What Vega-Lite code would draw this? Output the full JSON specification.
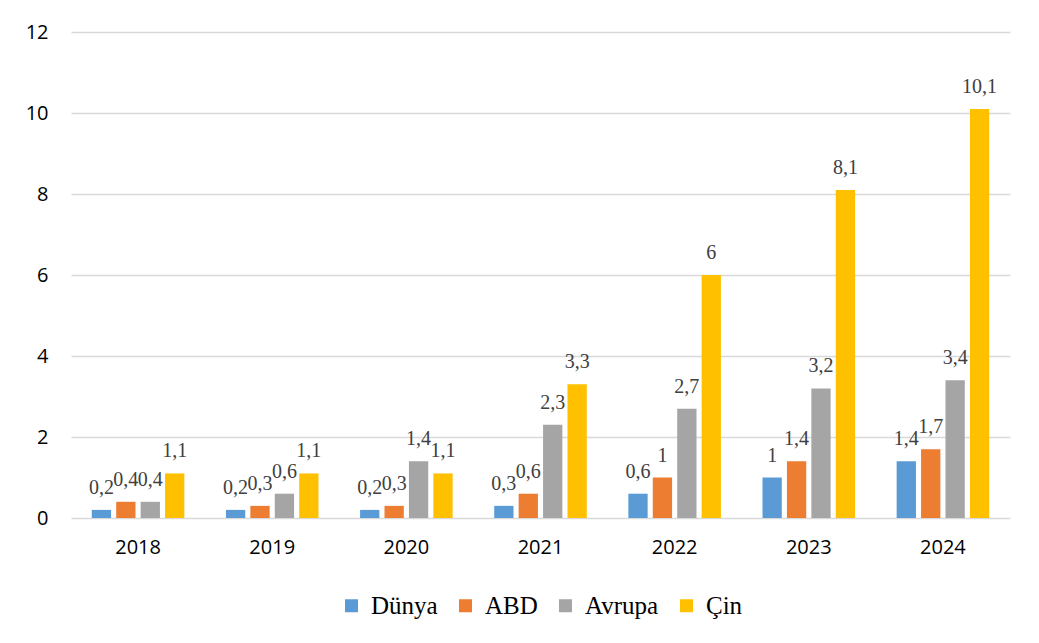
{
  "$schema": "https://vega.github.io/schema/vega-lite/v6.json",
  "width": 939,
  "height": 486,
  "autosize": {"type": "none"},
  "padding": {"left": 71, "top": 32, "right": 29, "bottom": 125},
  "background": "white",
  "data": {
    "values": [
      {"yil": "2018", "seri": "Dünya", "v": 0.2},
      {"yil": "2018", "seri": "ABD", "v": 0.4},
      {"yil": "2018", "seri": "Avrupa", "v": 0.4},
      {"yil": "2018", "seri": "Çin", "v": 1.1},
      {"yil": "2019", "seri": "Dünya", "v": 0.2},
      {"yil": "2019", "seri": "ABD", "v": 0.3},
      {"yil": "2019", "seri": "Avrupa", "v": 0.6},
      {"yil": "2019", "seri": "Çin", "v": 1.1},
      {"yil": "2020", "seri": "Dünya", "v": 0.2},
      {"yil": "2020", "seri": "ABD", "v": 0.3},
      {"yil": "2020", "seri": "Avrupa", "v": 1.4},
      {"yil": "2020", "seri": "Çin", "v": 1.1},
      {"yil": "2021", "seri": "Dünya", "v": 0.3},
      {"yil": "2021", "seri": "ABD", "v": 0.6},
      {"yil": "2021", "seri": "Avrupa", "v": 2.3},
      {"yil": "2021", "seri": "Çin", "v": 3.3},
      {"yil": "2022", "seri": "Dünya", "v": 0.6},
      {"yil": "2022", "seri": "ABD", "v": 1},
      {"yil": "2022", "seri": "Avrupa", "v": 2.7},
      {"yil": "2022", "seri": "Çin", "v": 6},
      {"yil": "2023", "seri": "Dünya", "v": 1},
      {"yil": "2023", "seri": "ABD", "v": 1.4},
      {"yil": "2023", "seri": "Avrupa", "v": 3.2},
      {"yil": "2023", "seri": "Çin", "v": 8.1},
      {"yil": "2024", "seri": "Dünya", "v": 1.4},
      {"yil": "2024", "seri": "ABD", "v": 1.7},
      {"yil": "2024", "seri": "Avrupa", "v": 3.4},
      {"yil": "2024", "seri": "Çin", "v": 10.1}
    ]
  },
  "transform": [
    {"calculate": "replace(format(datum.v, '~g'), '.', ',')", "as": "etiket"}
  ],
  "encoding": {
    "x": {
      "field": "yil",
      "type": "nominal",
      "scale": {"paddingInner": 0.31, "paddingOuter": 0.155},
      "axis": {
        "title": null,
        "labelAngle": 0,
        "domain": false,
        "ticks": false,
        "labelPadding": 19,
        "labelFont": "Open Sans",
        "labelFontSize": 20,
        "labelColor": "#000000"
      }
    },
    "xOffset": {
      "field": "seri",
      "type": "nominal",
      "sort": ["Dünya", "ABD", "Avrupa", "Çin"],
      "scale": {"paddingInner": 0.21, "paddingOuter": 0}
    },
    "y": {
      "field": "v",
      "type": "quantitative",
      "scale": {"domain": [0, 12]},
      "axis": {
        "title": null,
        "values": [0, 2, 4, 6, 8, 10, 12],
        "domain": false,
        "ticks": false,
        "labelPadding": 23,
        "labelFont": "Open Sans",
        "labelFontSize": 20,
        "labelColor": "#000000",
        "gridColor": "#d9d9d9",
        "gridWidth": 1.3
      }
    }
  },
  "layer": [
    {
      "mark": {"type": "bar"},
      "encoding": {
        "color": {
          "field": "seri",
          "type": "nominal",
          "sort": ["Dünya", "ABD", "Avrupa", "Çin"],
          "scale": {
            "domain": ["Dünya", "ABD", "Avrupa", "Çin"],
            "range": ["#5b9bd5", "#ed7d31", "#a5a5a5", "#ffc000"]
          },
          "legend": {
            "title": null,
            "orient": "bottom",
            "direction": "horizontal",
            "symbolType": "square",
            "symbolSize": 169,
            "symbolStrokeWidth": 0,
            "labelFont": "Liberation Serif",
            "labelFontSize": 25,
            "labelColor": "#000000",
            "labelOffset": 7,
            "columnPadding": 15,
            "offset": 36
          }
        }
      }
    },
    {
      "mark": {
        "type": "text",
        "baseline": "alphabetic",
        "dy": -16,
        "font": "Liberation Serif",
        "fontSize": 20,
        "color": "#404040"
      },
      "encoding": {
        "text": {"field": "etiket", "type": "nominal"}
      }
    }
  ],
  "config": {
    "view": {"stroke": null},
    "legend": {"layout": {"bottom": {"anchor": "middle"}}}
  }
}
